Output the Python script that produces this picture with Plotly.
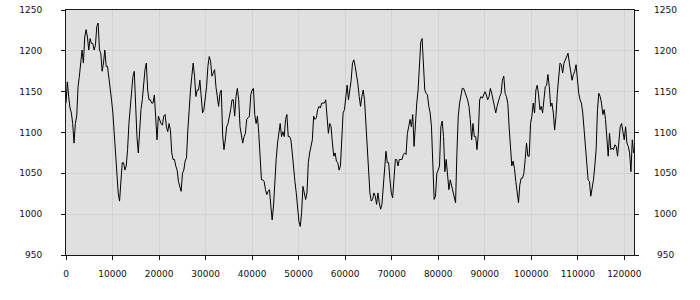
import numpy as np
import plotly.graph_objects as go

# Series values (six consecutive segments)
seg_a = [1136, 1162, 1144, 1130, 1124, 1111, 1087, 1111, 1120, 1156, 1169, 1185, 1201, 1185, 1217, 1226,
         1217, 1201, 1215, 1209, 1209, 1201, 1207, 1230, 1234, 1201, 1197, 1175, 1185, 1201, 1181, 1181,
         1169, 1154, 1140, 1124, 1099, 1075, 1050, 1026, 1016, 1042, 1063, 1063, 1054, 1059, 1079, 1111,
         1132, 1156, 1169, 1175, 1132, 1095, 1075, 1103, 1128, 1140, 1160, 1177, 1185, 1152, 1140, 1140,
         1136, 1136, 1146, 1124, 1091, 1120]
seg_b = [1114, 1111, 1109, 1120, 1122, 1107, 1101, 1111, 1103, 1075, 1067, 1067, 1059, 1054, 1040, 1034,
         1028, 1050, 1054, 1065, 1069, 1103, 1130, 1152, 1169, 1185, 1169, 1144, 1152, 1152, 1164, 1140,
         1124, 1128, 1144, 1156, 1181, 1193, 1187, 1169, 1173, 1177, 1156, 1140, 1132, 1148, 1152, 1097,
         1079, 1091, 1107, 1111, 1118, 1128, 1140, 1140, 1120, 1144, 1154, 1140, 1107, 1099, 1087, 1095,
         1099, 1116, 1118, 1120, 1146, 1152, 1154]
seg_c = [1122, 1111, 1120, 1099, 1063, 1042, 1042, 1040, 1030, 1024, 1028, 1030, 1010, 993, 1010, 1048,
         1067, 1087, 1097, 1111, 1095, 1101, 1095, 1116, 1122, 1095, 1095, 1091, 1075, 1054, 1040, 1026,
         1002, 991, 985, 1002, 1034, 1026, 1018, 1026, 1063, 1075, 1083, 1091, 1120, 1116, 1118, 1128,
         1132, 1130, 1136, 1136, 1136, 1140, 1120, 1099, 1111, 1107, 1087, 1071, 1075, 1065, 1063, 1054,
         1059, 1087, 1124, 1128, 1148, 1158, 1140]
seg_d = [1152, 1164, 1185, 1189, 1181, 1171, 1160, 1144, 1132, 1144, 1152, 1140, 1107, 1079, 1054, 1026,
         1016, 1018, 1026, 1022, 1012, 1026, 1014, 1006, 1012, 1036, 1063, 1077, 1063, 1063, 1042, 1026,
         1020, 1040, 1067, 1067, 1059, 1067, 1067, 1067, 1073, 1075, 1073, 1099, 1107, 1116, 1107, 1122,
         1083, 1116, 1136, 1152, 1185, 1211, 1215, 1185, 1152, 1148, 1146, 1132, 1124, 1107, 1054, 1018,
         1022, 1050, 1054, 1059, 1107, 1114, 1095]
seg_e = [1052, 1067, 1046, 1030, 1042, 1034, 1030, 1022, 1014, 1075, 1120, 1136, 1148, 1154, 1154, 1150,
         1144, 1140, 1132, 1116, 1091, 1111, 1095, 1095, 1079, 1099, 1140, 1144, 1142, 1146, 1150, 1146,
         1140, 1144, 1154, 1148, 1140, 1132, 1124, 1132, 1140, 1144, 1148, 1164, 1169, 1148, 1144, 1136,
         1107, 1083, 1059, 1065, 1056, 1040, 1026, 1014, 1036, 1044, 1044, 1050, 1067, 1087, 1071, 1071,
         1111, 1120, 1136, 1124, 1152, 1158, 1146]
seg_f = [1128, 1132, 1124, 1140, 1156, 1158, 1171, 1156, 1132, 1136, 1124, 1103, 1120, 1148, 1169, 1185,
         1183, 1173, 1185, 1189, 1195, 1197, 1185, 1175, 1164, 1171, 1175, 1183, 1164, 1148, 1140, 1136,
         1124, 1103, 1079, 1059, 1042, 1040, 1022, 1032, 1042, 1059, 1079, 1128, 1148, 1144, 1136, 1122,
         1128, 1116, 1091, 1071, 1099, 1079, 1081, 1079, 1085, 1083, 1071, 1095, 1107, 1111, 1099, 1091,
         1107, 1087, 1083, 1075, 1052, 1091, 1075]

values = seg_a + seg_b + seg_c + seg_d + seg_e + seg_f
x_end = 122000
xs = np.linspace(0, x_end, len(values))

x_ticks = list(range(0, 120001, 10000))
y_ticks = [950, 1000, 1050, 1100, 1150, 1200, 1250]

FONT = "DejaVu Sans"
TXT = "#111111"

fig = go.Figure()
fig.add_trace(go.Scatter(x=xs, y=values, mode="lines",
                         line=dict(color="#000000", width=1),
                         hoverinfo="skip", showlegend=False))

fig.update_layout(
    width=700, height=300,
    margin=dict(l=66, r=66, t=10, b=45, autoexpand=False),
    paper_bgcolor="#ffffff",
    plot_bgcolor="#e0e0e0",
    font=dict(family=FONT, size=9, color=TXT),
    showlegend=False,
)
fig.update_xaxes(
    range=[0, 122080], tickvals=x_ticks, ticktext=[str(v) for v in x_ticks],
    automargin=False,
    showgrid=True, gridcolor="#d2d2d2", gridwidth=1, zeroline=False,
    showline=True, linecolor="#1a1a1a", linewidth=1, mirror=True,
    ticks="outside", ticklen=4, tickcolor="#1a1a1a", ticklabelstandoff=6,
    tickfont=dict(family=FONT, size=9, color=TXT),
)
fig.update_yaxes(
    range=[950, 1250], tickvals=y_ticks, ticktext=[str(v) for v in y_ticks],
    automargin=False,
    showgrid=True, gridcolor="#d2d2d2", gridwidth=1, zeroline=False,
    showline=True, linecolor="#1a1a1a", linewidth=1, mirror="ticks",
    ticks="outside", ticklen=4, tickcolor="#1a1a1a", ticklabelstandoff=17,
    tickfont=dict(family=FONT, size=9, color=TXT),
)
for v in y_ticks:
    fig.add_annotation(x=1, xref="paper", y=v, yref="y", text=str(v),
                       showarrow=False, xanchor="center", xshift=31,
                       font=dict(family=FONT, size=9, color=TXT))

fig.write_html("out.html")
